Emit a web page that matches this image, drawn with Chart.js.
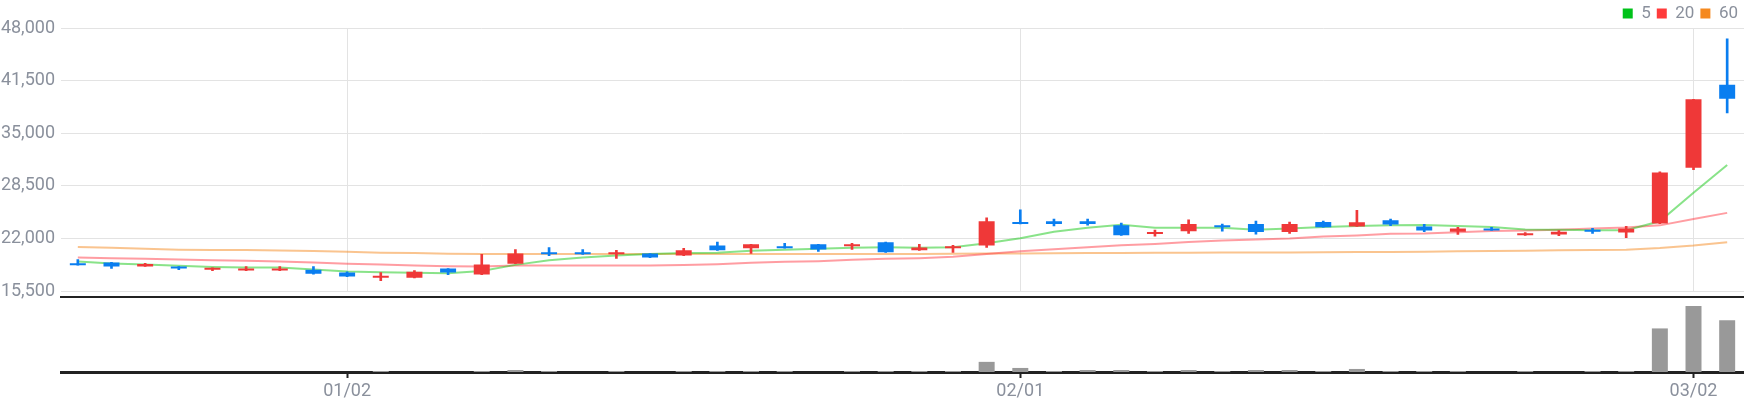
<!DOCTYPE html>
<html>
<head>
<meta charset="utf-8">
<script src="https://cdn.jsdelivr.net/npm/chart.js@4.4.1/dist/chart.umd.min.js"></script>
<style>
	html, body { margin: 0; padding: 0; background: #fff; }
	#wrap { position: relative; width: 1744px; height: 400px; overflow: hidden; }
	.box { position: absolute; left: 0; width: 1744px; }
</style>
</head>
<body>
<div id="wrap">
	<div class="box" style="top:0;height:308px"><canvas id="priceCanvas"></canvas></div>
	<div class="box" style="top:295px;height:105px"><canvas id="volCanvas"></canvas></div>
</div>
<script>
var dates = ['12/20','12/21','12/22','12/23','12/26','12/27','12/28','12/29',
	'01/02','01/03','01/04','01/05','01/06','01/09','01/10','01/11','01/12','01/13',
	'01/16','01/17','01/18','01/19','01/20','01/25','01/26','01/27','01/30','01/31',
	'02/01','02/02','02/03','02/06','02/07','02/08','02/09','02/10','02/13','02/14',
	'02/15','02/16','02/17','02/20','02/21','02/22','02/23','02/24','02/27','02/28',
	'03/02','03/03'];

var opens  = [18900,19050,18550,18550,18150,18050,18050,18150,17800,17150,17150,18300,17550,18900,20300,20300,20050,20150,19900,21150,20800,21050,21300,21050,21550,20550,20800,21150,24050,24150,24150,23650,22550,22900,23650,23800,22800,24050,23500,24250,23500,22850,23250,22400,22500,23100,22750,23850,30750,41000];
var highs  = [19400,19050,18950,18550,18400,18550,18550,18550,17900,17800,18050,18300,20050,20650,20900,20650,20550,20150,20800,21550,21300,21400,21300,21400,21550,21300,21150,24550,25550,24400,24400,23900,23050,24300,23800,24150,24050,24150,25500,24400,23750,23400,23400,22750,23000,23250,23500,30250,39200,46650];
var lows   = [18700,18300,18550,18150,18050,18050,18050,17600,17300,16800,17150,17550,17550,18900,19900,20050,19550,19650,19900,20550,20150,20800,20400,20650,20300,20550,20300,20900,23800,23550,23650,22400,22300,22650,22900,22550,22650,23400,23500,23600,22850,22500,23000,22400,22350,22650,22100,23850,30500,37500];
var closes = [18700,18550,18850,18300,18400,18300,18300,17650,17300,17400,17900,17800,18800,20150,20050,20050,20300,19650,20550,20550,21300,20800,20650,21300,20300,20900,21050,24150,23800,23800,23800,22400,22800,23800,23400,22800,23800,23400,24000,23750,23000,23250,23000,22650,22850,22850,23250,30150,39200,39250];

var ma5  = [19170,18920,18790,18630,18500,18420,18420,18170,17920,17830,17790,17710,18000,18750,19330,19670,19920,20080,20210,20250,20500,20630,20750,20880,20920,20880,20920,21420,22040,22830,23330,23710,23330,23330,23330,23080,23250,23420,23540,23630,23670,23540,23420,23130,23080,23040,23040,24130,27670,31080];
var ma20 = [19670,19580,19500,19420,19330,19250,19170,19040,18880,18790,18670,18580,18540,18670,18670,18670,18670,18670,18750,18830,19000,19130,19210,19380,19500,19580,19750,20080,20420,20670,20920,21170,21330,21580,21750,21880,22000,22250,22380,22580,22630,22790,22920,23000,23080,23250,23380,23630,24420,25170];
var ma60 = [20960,20880,20750,20630,20580,20580,20540,20460,20380,20250,20210,20130,20080,20080,20080,20080,20080,20080,20080,20080,20080,20080,20080,20080,20080,20080,20120,20150,20170,20190,20210,20230,20250,20260,20270,20280,20290,20300,20330,20350,20380,20420,20460,20500,20550,20600,20630,20830,21130,21540];

var volumes = [0,0,0,0,0,0,0,0,0,3,0,0,3,6,3,0,3,0,3,3,3,3,0,3,3,3,3,30,12,3,6,6,3,6,3,6,6,3,9,3,3,3,0,3,0,3,3,129,195,153];

var priceTicks = [15500,22000,28500,35000,41500,48000];
var maNames = ['5','20','60'];

var UP = '#ef3838';
var DOWN = '#0a7ef0';
var GRID = '#e3e3e3';
var LABEL = '#8a909c';

var candleColors = [];
for (var i = 0; i < opens.length; i++) {
	candleColors.push(closes[i] >= opens[i] ? UP : DOWN);
}

// first trading day of every month gets a tick
function isMonthStart(i) {
	if (i <= 0) return false;
	return dates[i].substr(0, 2) != dates[i - 1].substr(0, 2);
}

// legend box takes less height than chart.js gives it
var legendHeight = {
	id: 'legendHeight',
	beforeUpdate: function(chart) {
		var lg = chart.legend;
		if (lg && !lg._fitWrapped) {
			var fit = lg.fit;
			lg.fit = function() {
				fit.call(this);
				this.height = 29;
			};
			lg._fitWrapped = true;
		}
	}
};

var priceChart = new Chart(document.getElementById('priceCanvas'), {
	data: {
		labels: dates,
		datasets: [
			{
				type: 'bar',
				label: 'body',
				data: opens.map(function(o, i) { return [o, closes[i]]; }),
				backgroundColor: candleColors,
				barPercentage: 0.475,
				categoryPercentage: 1,
				grouped: false,
				minBarLength: 2,
				order: 0
			},
			{
				type: 'bar',
				label: 'wick',
				data: lows.map(function(l, i) { return [l, highs[i]]; }),
				backgroundColor: candleColors,
				barThickness: 2,
				grouped: false,
				order: 1
			},
			{
				type: 'line',
				label: '5',
				data: ma5,
				borderColor: 'rgba(20,200,20,0.5)',
				backgroundColor: '#00c21a',
				borderWidth: 2,
				pointRadius: 0,
				order: 2
			},
			{
				type: 'line',
				label: '20',
				data: ma20,
				borderColor: 'rgba(255,60,70,0.5)',
				backgroundColor: '#ff3b3b',
				borderWidth: 2,
				pointRadius: 0,
				order: 3
			},
			{
				type: 'line',
				label: '60',
				data: ma60,
				borderColor: 'rgba(245,137,31,0.5)',
				backgroundColor: '#f5891f',
				borderWidth: 2,
				pointRadius: 0,
				order: 4
			}
		]
	},
	options: {
		responsive: true,
		maintainAspectRatio: false,
		animation: false,
		layout: { padding: { top: -1, right: 0, bottom: 6, left: 0 } },
		plugins: {
			tooltip: { enabled: false },
			legend: {
				position: 'top',
				align: 'end',
				labels: {
					boxWidth: 10,
					boxHeight: 10,
					padding: 6,
					color: LABEL,
					font: { family: 'Roboto', size: 17 },
					generateLabels: function(chart) {
						var items = Chart.defaults.plugins.legend.labels.generateLabels(chart);
						return items.filter(function(it) {
							return maNames.indexOf(it.text) >= 0;
						}).map(function(it) {
							it.strokeStyle = it.fillStyle;
							it.lineWidth = 0;
							return it;
						});
					}
				}
			}
		},
		scales: {
			x: {
				offset: true,
				ticks: { display: false, autoSkip: false },
				grid: {
					drawTicks: false,
					offset: false,
					color: function(ctx) { return isMonthStart(ctx.index) ? GRID : 'rgba(0,0,0,0)'; }
				},
				border: { display: false }
			},
			y: {
				min: 15500,
				max: 48000,
				afterBuildTicks: function(axis) {
					axis.ticks = priceTicks.map(function(v) { return { value: v }; });
				},
				afterFit: function(axis) { axis.width = 61; },
				ticks: {
					padding: 6,
					color: LABEL,
					font: { family: 'Roboto', size: 18 },
					callback: function(v) { return v.toLocaleString('en-US'); }
				},
				grid: { color: GRID, drawTicks: false },
				border: { display: false }
			}
		}
	},
	plugins: [legendHeight]
});

var volChart = new Chart(document.getElementById('volCanvas'), {
	type: 'bar',
	data: {
		labels: dates,
		datasets: [
			{
				label: 'volume',
				data: volumes,
				backgroundColor: '#999999',
				barPercentage: 0.475,
				categoryPercentage: 1
			}
		]
	},
	options: {
		responsive: true,
		maintainAspectRatio: false,
		animation: false,
		layout: { padding: { top: 2, right: 0, bottom: 0, left: 61 } },
		plugins: {
			legend: { display: false },
			tooltip: { enabled: false }
		},
		scales: {
			x: {
				offset: true,
				afterFit: function(axis) { axis.height = 28; },
				ticks: {
					autoSkip: false,
					maxRotation: 0,
					padding: 3,
					color: LABEL,
					font: { family: 'Roboto', size: 18 },
					callback: function(v, i) { return isMonthStart(i) ? dates[i] : ''; }
				},
				grid: {
					drawOnChartArea: false,
					drawTicks: true,
					offset: false,
					tickLength: 6,
					tickWidth: 2,
					tickColor: function(ctx) { return isMonthStart(ctx.index) ? '#222' : 'rgba(0,0,0,0)'; }
				},
				border: { color: '#222', width: 3 }
			},
			x2: {
				position: 'top',
				ticks: { display: false },
				grid: { display: false, drawTicks: false },
				border: { color: '#222', width: 2 }
			},
			y: {
				display: false,
				min: 0,
				max: 222
			}
		}
	}
});
</script>
</body>
</html>
